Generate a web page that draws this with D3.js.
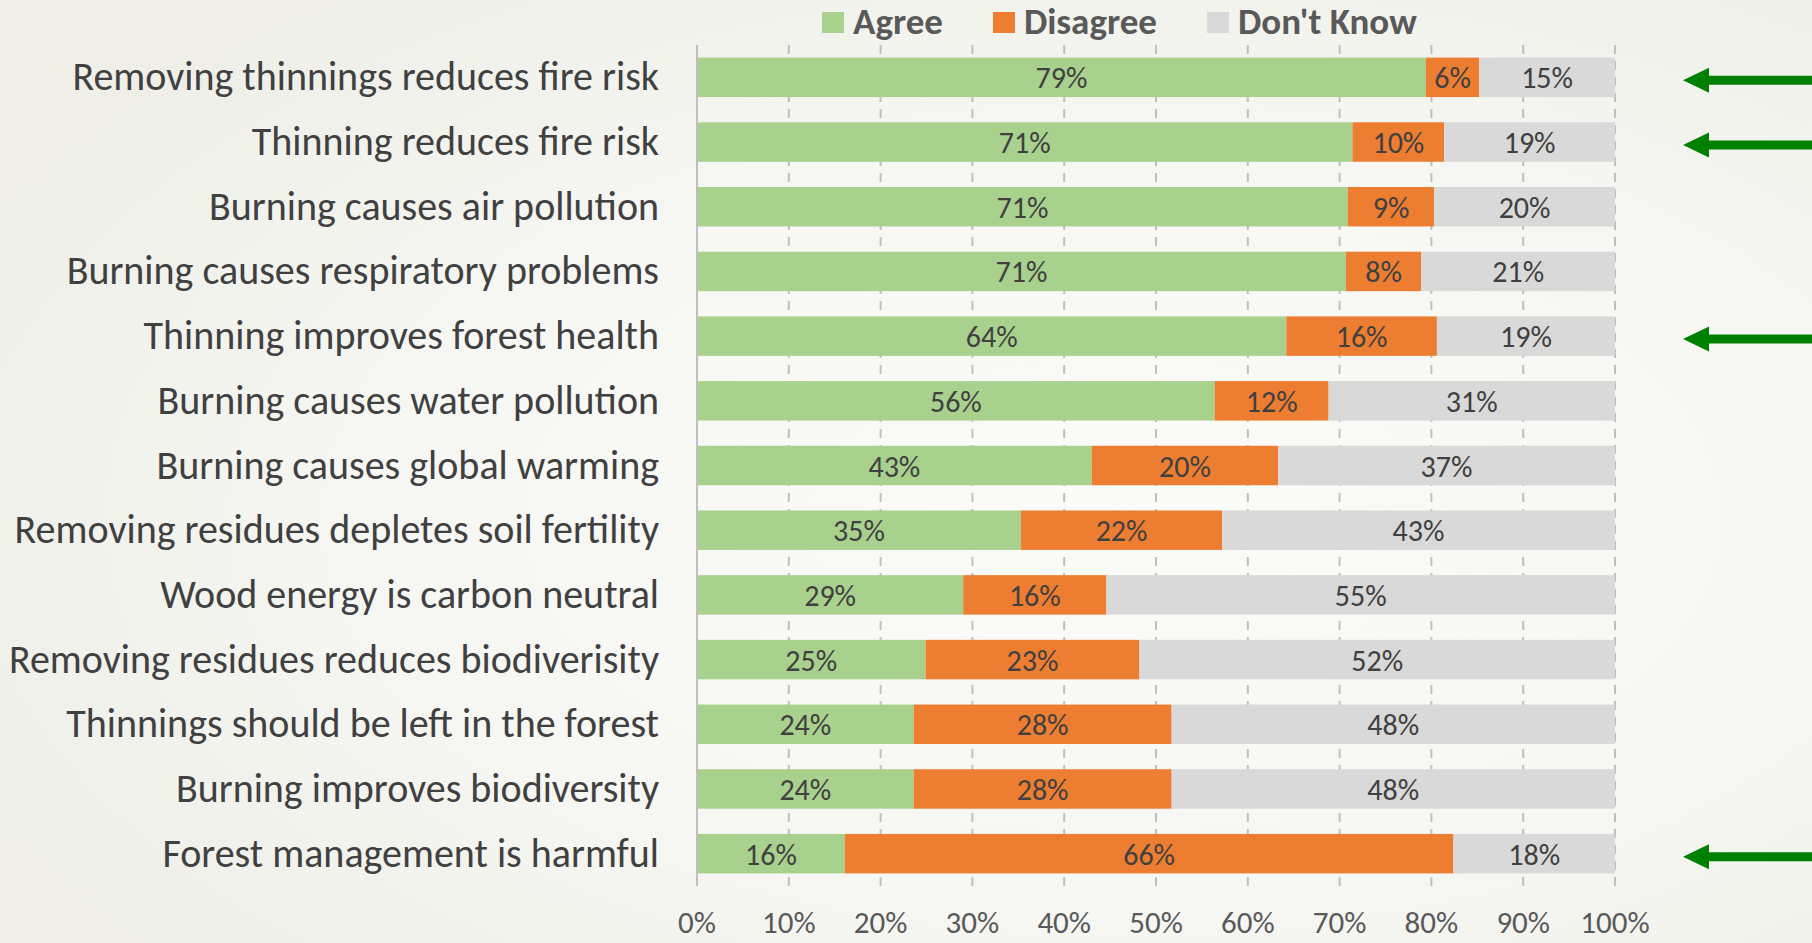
<!DOCTYPE html>
<html>
<head>
<meta charset="utf-8">
<script src="https://cdn.jsdelivr.net/npm/d3@7"></script>
<style>
	html, body { margin: 0; padding: 0; background: #f3f2ed; }
	svg { display: block; }
</style>
</head>
<body>
<div id="chart"></div>
<script>
// Data
var statements      = [
	'Removing thinnings reduces fire risk',
	'Thinning reduces fire risk',
	'Burning causes air pollution',
	'Burning causes respiratory problems',
	'Thinning improves forest health',
	'Burning causes water pollution',
	'Burning causes global warming',
	'Removing residues depletes soil fertility',
	'Wood energy is carbon neutral',
	'Removing residues reduces biodiverisity',
	'Thinnings should be left in the forest',
	'Burning improves biodiversity',
	'Forest management is harmful'
];
var agree           = [79.4, 71.4, 70.9, 70.7, 64.2, 56.4, 43.0, 35.3, 29.0, 24.9, 23.6, 23.6, 16.1];
var disagree        = [5.8, 10.0, 9.4, 8.2, 16.4, 12.4, 20.3, 21.9, 15.6, 23.3, 28.1, 28.1, 66.3];
var dontknow        = [14.8, 18.6, 19.7, 21.1, 19.4, 31.2, 36.7, 42.8, 55.4, 51.8, 48.3, 48.3, 17.6];
var series_names    = ['Agree', 'Disagree', "Don't Know"];
var series_colors   = ['#a9d18e', '#ed7d31', '#d9d9d9'];
var x_ticks         = [0, 10, 20, 30, 40, 50, 60, 70, 80, 90, 100];
var arrow_rows      = [
	'Removing thinnings reduces fire risk',
	'Thinning reduces fire risk',
	'Thinning improves forest health',
	'Forest management is harmful'
];

// Width and height
var chart_width     =   1812;
var chart_height    =   943;
var font            =   'Calibri, Carlito, Lato, sans-serif';

var rows            = statements.map((s, i) => ({
	name: s,
	Agree: agree[i],
	Disagree: disagree[i],
	"Don't Know": dontknow[i]
}));

var stack           = d3.stack().keys(series_names)(rows);

var x               = d3.scaleLinear()
	.domain([0, 100])
	.range([697, 1615]);

var y               = d3.scaleBand()
	.domain(statements)
	.range([45, 886])
	.paddingInner(0.39)
	.paddingOuter(0.195);

var color           = d3.scaleOrdinal()
	.domain(series_names)
	.range(series_colors);

// Create SVG
var svg             =   d3.select('#chart')
	.append('svg')
	.attr('width', chart_width)
	.attr('height', chart_height);

var defs            = svg.append('defs');
var grad            = defs.append('radialGradient')
	.attr('id', 'bg')
	.attr('cx', '62%')
	.attr('cy', '55%')
	.attr('r', '70%');
grad.append('stop').attr('offset', '0%').attr('stop-color', '#fbfbf9');
grad.append('stop').attr('offset', '60%').attr('stop-color', '#f6f6f2');
grad.append('stop').attr('offset', '100%').attr('stop-color', '#efefe8');

svg.append('rect')
	.attr('width', chart_width)
	.attr('height', chart_height)
	.attr('fill', 'url(#bg)');

// Gridlines
svg.append('g')
	.selectAll('line')
	.data(x_ticks.slice(1))
	.enter()
	.append('line')
	.attr('x1', (d) => x(d))
	.attr('x2', (d) => x(d))
	.attr('y1', y.range()[0])
	.attr('y2', y.range()[1])
	.attr('stroke', '#bfbfbf')
	.attr('stroke-width', 2)
	.attr('stroke-dasharray', '9,7');

// Bars
var layers          = svg.append('g')
	.selectAll('g')
	.data(stack)
	.enter()
	.append('g')
	.attr('fill', (d) => color(d.key));

layers.selectAll('rect')
	.data((d) => d)
	.enter()
	.append('rect')
	.attr('x', (d) => x(d[0]))
	.attr('y', (d) => y(d.data.name))
	.attr('width', (d) => x(d[1]) - x(d[0]))
	.attr('height', y.bandwidth());

layers.selectAll('text')
	.data((d) => d)
	.enter()
	.append('text')
	.attr('x', (d) => (x(d[0]) + x(d[1])) / 2)
	.attr('y', (d) => y(d.data.name) + y.bandwidth() / 2 + 11)
	.attr('text-anchor', 'middle')
	.attr('font-family', font)
	.attr('font-size', 30)
	.attr('fill', '#404040')
	.text((d) => Math.round(d[1] - d[0]) + '%');

// Axis line at 0
svg.append('line')
	.attr('x1', x(0))
	.attr('x2', x(0))
	.attr('y1', y.range()[0])
	.attr('y2', y.range()[1])
	.attr('stroke', '#bfbfbf')
	.attr('stroke-width', 2);

// Category labels
svg.append('g')
	.selectAll('text')
	.data(statements)
	.enter()
	.append('text')
	.attr('x', 659)
	.attr('y', (d) => y(d) + y.bandwidth() / 2 + 13)
	.attr('text-anchor', 'end')
	.attr('font-family', font)
	.attr('font-size', 40)
	.attr('fill', '#404040')
	.text((d) => d);

// X axis labels
svg.append('g')
	.selectAll('text')
	.data(x_ticks)
	.enter()
	.append('text')
	.attr('x', (d) => x(d))
	.attr('y', 933)
	.attr('text-anchor', 'middle')
	.attr('font-family', font)
	.attr('font-size', 31)
	.attr('fill', '#595959')
	.text((d) => d + '%');

// Legend
var legend          = svg.append('g')
	.attr('transform', 'translate(822, 0)');

var legend_x        = 0;
series_names.forEach((name) => {
	var item = legend.append('g')
		.attr('transform', 'translate(' + legend_x + ', 0)');
	item.append('rect')
		.attr('x', 0)
		.attr('y', 12)
		.attr('width', 22)
		.attr('height', 21)
		.attr('fill', color(name));
	var label = item.append('text')
		.attr('x', 31)
		.attr('y', 34)
		.attr('font-family', font)
		.attr('font-weight', 'bold')
		.attr('font-size', 37)
		.attr('fill', '#595959')
		.text(name);
	legend_x += 31 + label.node().getComputedTextLength() + 50;
});

// Arrows
var arrows          = svg.append('g')
	.attr('fill', '#008000');

arrows.selectAll('path')
	.data(arrow_rows)
	.enter()
	.append('path')
	.attr('d', (d) => {
		var cy = y(d) + y.bandwidth() / 2 + 3;
		var tip = 1683;
		return 'M' + tip + ',' + cy +
			'L' + (tip + 26) + ',' + (cy - 12.5) +
			'L' + (tip + 26) + ',' + (cy - 4.5) +
			'L' + chart_width + ',' + (cy - 4.5) +
			'L' + chart_width + ',' + (cy + 4.5) +
			'L' + (tip + 26) + ',' + (cy + 4.5) +
			'L' + (tip + 26) + ',' + (cy + 12.5) + 'Z';
	});
</script>
</body>
</html>
